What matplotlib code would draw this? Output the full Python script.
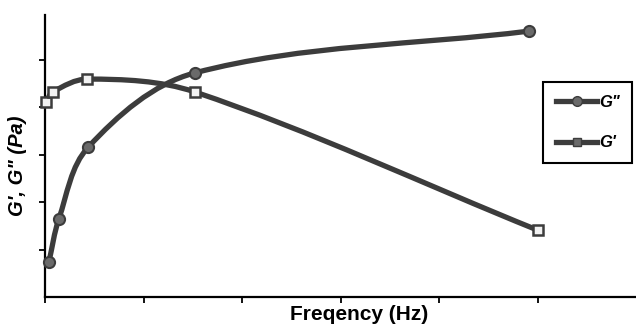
import matplotlib
matplotlib.use("Agg")
import matplotlib.pyplot as plt
from matplotlib.path import Path
from matplotlib.patches import PathPatch

# values (axis units: 1 tick = 1)
freq_g2 = [0.04, 0.14, 0.44, 1.52, 4.91]
g2 = [0.74, 1.64, 3.16, 4.72, 5.60]
freq_g1 = [0.01, 0.08, 0.43, 1.52, 5.00]
g1 = [4.11, 4.32, 4.59, 4.32, 1.41]
labels = ['G"', "G'"]

line_col = "#3c3c3c"
sx, sy = 98.6, 47.5  # px per unit, only used for curve tangents


def smooth_path(xs, ys):
    # bezier through the points, tangents scaled by segment length (in px)
    pts = [(x * sx, y * sy) for x, y in zip(xs, ys)]
    n = len(pts)

    def tangent(i):
        a = pts[max(i - 1, 0)]
        b = pts[min(i + 1, n - 1)]
        dx, dy = b[0] - a[0], b[1] - a[1]
        ln = (dx * dx + dy * dy) ** 0.5
        return dx / ln, dy / ln

    verts = [pts[0]]
    codes = [Path.MOVETO]
    for i in range(n - 1):
        p1, p2 = pts[i], pts[i + 1]
        seg = ((p2[0] - p1[0]) ** 2 + (p2[1] - p1[1]) ** 2) ** 0.5 / 3
        t1, t2 = tangent(i), tangent(i + 1)
        c1 = (p1[0] + t1[0] * seg, p1[1] + t1[1] * seg)
        c2 = (p2[0] - t2[0] * seg, p2[1] - t2[1] * seg)
        verts += [c1, c2, p2]
        codes += [Path.CURVE4] * 3
    verts = [(x / sx, y / sy) for x, y in verts]
    return Path(verts, codes)


fig = plt.figure(figsize=(6.36, 3.28), dpi=100)
ax = fig.add_axes([45 / 636, 31 / 328, 591 / 636, 282 / 328])

for xs, ys in [(freq_g2, g2), (freq_g1, g1)]:
    ax.add_patch(PathPatch(smooth_path(xs, ys), facecolor="none",
                           edgecolor=line_col, lw=3.8, clip_on=False,
                           capstyle="round", joinstyle="round"))

ax.plot(freq_g2, g2, "o", ms=8, mfc="#6a6a6a", mec=line_col, mew=1.5,
        clip_on=False, label=labels[0], zorder=3)
ax.plot(freq_g1, g1, "s", ms=6.5, mfc="#f2f2f2", mec=line_col, mew=1.8,
        clip_on=False, label=labels[1], zorder=3)

ax.set_xlim(0, 6.0)
ax.set_ylim(0, 5.94)
ax.set_xticks([0, 1, 2, 3, 4, 5])
ax.set_yticks([1, 2, 3, 4, 5])
ax.tick_params(direction="out", length=4, width=1.3, labelbottom=False,
               labelleft=False, color="black")
for s in ["top", "right"]:
    ax.spines[s].set_visible(False)
for s in ["left", "bottom"]:
    ax.spines[s].set_linewidth(1.6)
    ax.spines[s].set_color("black")

ax.set_xlabel("Freqency (Hz)", family="Liberation Sans", weight="bold",
              fontsize=15)
ax.xaxis.label.set_va("baseline")
ax.xaxis.set_label_coords(0.531, -0.0816)

ax.set_ylabel("G', G\" (Pa)", family="Liberation Sans", weight="bold",
              style="italic", fontsize=14.5)
ax.yaxis.label.set_va("center")
ax.yaxis.set_label_coords(-0.0457, 0.465)

# legend handles: line + marker like the excel legend
h1, = ax.plot([], [], "-o", color=line_col, lw=3.8, ms=7, mfc="#6a6a6a",
              mec=line_col)
h2, = ax.plot([], [], "-s", color=line_col, lw=3.8, ms=6, mfc="#6a6a6a",
              mec=line_col)
leg = ax.legend([h1, h2], labels, loc="upper left",
                bbox_to_anchor=(0.843, 0.762), borderaxespad=0,
                prop={"family": "Liberation Sans", "weight": "bold",
                      "style": "italic", "size": 12},
                handlelength=2.5, handletextpad=0.1, labelspacing=1.55,
                borderpad=0.75, fancybox=False, framealpha=1,
                edgecolor="black")
leg.get_frame().set_linewidth(1.5)

fig.savefig("out.png", dpi=100)
